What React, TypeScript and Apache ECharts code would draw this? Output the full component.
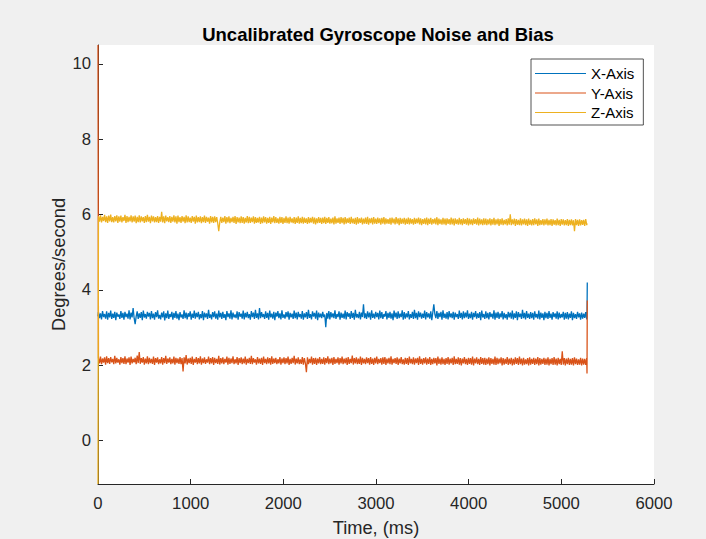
import React, { useEffect, useRef } from "react";
import * as echarts from "echarts";

// Sampling clock of the gyroscope log (ms)
const SAMPLE_START_MS = 5;
const SAMPLE_PERIOD_MS = 11;
const START_MS = 0;
const END_MS = [5277, 5280];

const seriesNames = ["X-Axis", "Y-Axis", "Z-Axis"];
const seriesColors = ["#0072BD", "#D95319", "#EDB120"];

const yTicks = [0, 2, 4, 6, 8, 10];
const xTicks = [0, 1000, 2000, 3000, 4000, 5000, 6000];

// X-Axis (deg/s): first sample, steady samples, last two samples
const xAxisValues = [
  3.3,
  3.41,3.25,3.38,3.22,3.44,3.28,3.36,3.24,3.43,3.21,3.39,3.27,3.45,3.23,3.37,3.26,3.42,3.20,3.40,3.29,
  3.35,3.23,3.44,3.26,3.39,3.21,3.42,3.28,3.37,3.24,3.46,3.22,3.40,3.27,3.52,3.25,3.09,3.30,3.43,3.23,
  3.38,3.26,3.41,3.20,3.45,3.27,3.36,3.24,3.42,3.29,3.39,3.22,3.44,3.25,3.37,3.21,3.41,3.28,3.46,3.24,
  3.34,3.22,3.40,3.27,3.43,3.19,3.38,3.25,3.45,3.23,3.36,3.28,3.42,3.21,3.39,3.26,3.44,3.24,3.37,3.20,
  3.41,3.27,3.35,3.23,3.46,3.25,3.40,3.22,3.38,3.29,3.43,3.21,3.37,3.26,3.45,3.24,3.39,3.28,3.42,3.22,
  3.36,3.25,3.44,3.20,3.40,3.27,3.38,3.23,3.47,3.26,3.35,3.22,3.41,3.28,3.43,3.24,3.37,3.21,3.45,3.27,
  3.39,3.23,3.42,3.26,3.36,3.20,3.44,3.28,3.38,3.24,3.46,3.22,3.40,3.27,3.35,3.25,3.43,3.21,3.41,3.29,
  3.37,3.24,3.45,3.22,3.39,3.27,3.42,3.25,3.36,3.21,3.44,3.28,3.40,3.23,3.47,3.26,3.38,3.22,3.52,3.25,
  3.41,3.28,3.36,3.23,3.43,3.26,3.39,3.21,3.45,3.27,3.37,3.24,3.42,3.20,3.40,3.29,3.44,3.25,3.38,3.22,
  3.46,3.26,3.35,3.24,3.41,3.28,3.43,3.21,3.39,3.27,3.37,3.23,3.45,3.25,3.40,3.22,3.42,3.28,3.36,3.24,
  3.44,3.21,3.38,3.27,3.41,3.23,3.47,3.26,3.36,3.22,3.43,3.29,3.39,3.24,3.45,3.20,3.40,3.27,3.37,3.25,
  3.42,3.28,3.35,3.01,3.39,3.24,3.44,3.22,3.41,3.27,3.38,3.25,3.46,3.23,3.36,3.28,3.43,3.21,3.40,3.26,
  3.37,3.24,3.45,3.22,3.41,3.29,3.38,3.23,3.44,3.26,3.39,3.21,3.47,3.27,3.36,3.25,3.42,3.22,3.40,3.28,
  3.62,3.25,3.38,3.23,3.43,3.27,3.40,3.21,3.46,3.26,3.37,3.24,3.42,3.28,3.39,3.22,3.45,3.25,3.41,3.23,
  3.36,3.29,3.44,3.22,3.39,3.26,3.42,3.24,3.38,3.20,3.45,3.27,3.40,3.23,3.43,3.25,3.37,3.28,3.46,3.21,
  3.41,3.24,3.38,3.27,3.44,3.22,3.36,3.26,3.42,3.23,3.47,3.25,3.39,3.21,3.43,3.28,3.40,3.24,3.37,3.26,
  3.45,3.22,3.41,3.27,3.38,3.24,3.43,3.20,3.40,3.62,3.36,3.25,3.44,3.23,3.39,3.28,3.42,3.21,3.46,3.26,
  3.37,3.24,3.41,3.22,3.44,3.27,3.38,3.25,3.42,3.21,3.40,3.28,3.36,3.23,3.45,3.26,3.39,3.22,3.43,3.25,
  3.40,3.27,3.46,3.23,3.37,3.25,3.42,3.21,3.39,3.28,3.44,3.24,3.38,3.26,3.41,3.20,3.45,3.27,3.36,3.23,
  3.43,3.25,3.39,3.22,3.41,3.28,3.37,3.24,3.46,3.21,3.40,3.26,3.42,3.23,3.38,3.27,3.44,3.22,3.39,3.25,
  3.36,3.21,3.42,3.27,3.40,3.24,3.45,3.22,3.38,3.26,3.43,3.20,3.41,3.28,3.37,3.23,3.47,3.25,3.39,3.22,
  3.44,3.26,3.37,3.23,3.41,3.25,3.39,3.21,3.43,3.27,3.36,3.24,3.45,3.22,3.40,3.26,3.38,3.20,3.42,3.25,
  3.39,3.23,3.44,3.26,3.37,3.21,3.41,3.28,3.38,3.24,3.43,3.22,3.40,3.25,3.36,3.27,3.42,3.21,3.39,3.24,
  3.41,3.22,3.37,3.26,3.43,3.20,3.39,3.25,3.36,3.23,3.42,3.27,3.38,3.21,3.40,3.24,3.37,3.26,3.41,3.22,
  3.30, 4.20,
];

// Y-Axis (deg/s)
const yAxisValues = [
  10.5,
  2.20,2.05,2.23,2.03,2.18,2.07,2.21,2.02,2.24,2.06,2.19,2.04,2.22,2.08,2.17,2.03,2.25,2.05,2.20,2.07,
  2.16,2.02,2.22,2.06,2.19,2.04,2.24,2.03,2.18,2.07,2.21,2.01,2.23,2.05,2.17,2.08,2.20,2.03,2.26,2.06,
  2.35,2.04,2.19,2.07,2.22,2.02,2.18,2.05,2.24,2.03,2.20,2.06,2.17,2.04,2.23,2.01,2.19,2.07,2.21,2.03,
  2.16,2.05,2.22,2.02,2.19,2.06,2.25,2.04,2.18,2.07,2.21,2.03,2.17,2.05,2.23,2.02,2.20,2.06,2.18,2.04,
  2.22,2.03,2.19,1.84,2.21,2.05,2.27,2.02,2.18,2.06,2.20,2.04,2.23,2.01,2.17,2.07,2.22,2.03,2.19,2.05,
  2.24,2.02,2.18,2.06,2.21,2.04,2.16,2.07,2.23,2.03,2.19,2.05,2.22,2.01,2.20,2.06,2.17,2.04,2.25,2.02,
  2.19,2.05,2.21,2.03,2.17,2.07,2.23,2.02,2.20,2.04,2.18,2.06,2.24,2.03,2.16,2.05,2.22,2.01,2.19,2.06,
  2.21,2.03,2.18,2.05,2.23,2.02,2.17,2.06,2.20,2.04,2.25,2.03,2.19,2.07,2.16,2.02,2.22,2.05,2.18,2.04,
  2.20,2.01,2.23,2.06,2.17,2.03,2.21,2.05,2.19,2.02,2.24,2.04,2.18,2.06,2.20,2.03,2.16,2.05,2.22,2.02,
  2.18,2.06,2.21,2.03,2.19,2.05,2.23,2.01,2.17,2.04,2.20,2.06,2.25,2.02,2.18,2.05,2.21,2.03,2.16,2.04,
  2.22,2.02,2.19,2.05,1.82,2.21,2.03,2.17,2.06,2.23,2.02,2.19,2.04,2.20,2.01,2.18,2.05,2.22,2.03,2.17,
  2.04,2.21,2.02,2.19,2.06,2.24,2.03,2.18,2.05,2.20,2.01,2.22,2.04,2.17,2.06,2.21,2.02,2.19,2.05,2.23,
  2.03,2.18,2.05,2.20,2.01,2.22,2.04,2.17,2.06,2.26,2.02,2.19,2.05,2.21,2.03,2.18,2.04,2.23,2.01,2.20,
  2.05,2.17,2.03,2.21,2.06,2.19,2.02,2.22,2.04,2.18,2.01,2.20,2.05,2.23,2.03,2.17,2.06,2.19,2.02,2.21,
  2.04,2.22,2.01,2.18,2.05,2.20,2.03,2.24,2.02,2.17,2.06,2.19,2.04,2.21,2.01,2.18,2.05,2.22,2.03,2.16,
  2.02,2.20,2.04,2.19,2.01,2.23,2.05,2.17,2.03,2.21,2.02,2.18,2.06,2.20,2.01,2.24,2.04,2.17,2.02,2.19,
  2.05,2.21,2.02,2.18,2.04,2.22,2.01,2.17,2.03,2.20,2.05,2.19,2.00,2.23,2.04,2.18,2.02,2.21,2.03,2.17,
  2.01,2.19,2.04,2.22,2.02,2.18,2.05,2.20,2.01,2.24,2.03,2.17,2.04,2.21,2.02,2.19,2.00,2.18,2.05,2.22,
  2.03,2.17,2.01,2.20,2.04,2.19,2.02,2.23,2.00,2.18,2.05,2.21,2.03,2.17,2.01,2.22,2.04,2.19,2.02,2.20,
  2.01,2.18,2.03,2.21,2.00,2.19,2.04,2.17,2.02,2.23,2.01,2.20,2.03,2.18,2.05,2.21,2.00,2.19,2.02,2.17,
  2.04,2.22,2.01,2.18,2.03,2.20,2.00,2.17,2.02,2.21,2.04,2.19,2.01,2.23,2.03,2.18,2.00,2.20,2.02,2.16,
  2.03,2.19,2.00,2.21,2.02,2.17,2.04,2.20,2.01,2.18,2.03,2.22,2.00,2.19,2.02,2.17,2.04,2.20,2.01,2.18,
  2.02,2.21,2.00,2.17,2.03,2.19,2.01,2.22,2.02,2.18,2.00,2.20,2.03,2.17,2.01,2.37,2.02,2.19,2.00,2.18,
  2.03,2.20,2.01,2.17,2.02,2.19,2.00,2.21,2.03,2.18,2.01,2.16,2.02,2.20,2.00,2.18,2.02,2.17,2.01,2.19,
  1.78, 3.72,
];

// Z-Axis (deg/s)
const zAxisValues = [
  -1.15,
  5.96,5.81,5.98,5.79,5.94,5.83,5.99,5.80,5.95,5.78,5.97,5.82,6.00,5.80,5.93,5.79,5.96,5.82,5.98,5.78,
  5.95,5.81,5.97,5.79,5.93,5.83,5.99,5.78,5.96,5.80,5.94,5.82,5.98,5.79,5.95,5.81,5.97,5.77,5.94,5.80,
  5.98,5.79,5.95,5.82,5.93,5.78,5.96,5.80,5.99,5.81,5.94,5.77,5.97,5.82,5.95,5.79,5.93,5.80,5.96,5.78,
  5.94,5.81,6.07,5.79,5.95,5.77,5.97,5.82,5.93,5.80,5.96,5.78,5.94,5.81,5.98,5.79,5.95,5.76,5.97,5.80,
  5.93,5.78,5.96,5.81,5.94,5.77,5.98,5.79,5.95,5.80,5.92,5.78,5.96,5.81,5.94,5.76,5.97,5.79,5.93,5.80,
  5.95,5.77,5.93,5.80,5.97,5.78,5.94,5.81,5.92,5.76,5.96,5.79,5.94,5.78,5.95,5.80,5.93,5.77,5.56,5.79,
  5.94,5.78,5.92,5.80,5.96,5.76,5.93,5.79,5.95,5.77,5.91,5.80,5.94,5.78,5.96,5.75,5.93,5.79,5.92,5.77,
  5.95,5.78,5.93,5.76,5.91,5.79,5.96,5.77,5.94,5.78,5.92,5.80,5.95,5.76,5.93,5.78,5.91,5.79,5.94,5.75,
  5.92,5.77,5.95,5.79,5.93,5.76,5.91,5.78,5.94,5.75,5.92,5.79,5.96,5.77,5.93,5.78,5.90,5.76,5.94,5.78,
  5.93,5.75,5.91,5.78,5.95,5.77,5.92,5.76,5.94,5.79,5.90,5.77,5.93,5.75,5.92,5.78,5.95,5.76,5.91,5.77,
  5.94,5.76,5.92,5.78,5.90,5.75,5.93,5.77,5.91,5.79,5.94,5.76,5.92,5.74,5.90,5.77,5.93,5.78,5.91,5.75,
  5.92,5.77,5.94,5.75,5.91,5.78,5.93,5.76,5.89,5.77,5.92,5.74,5.95,5.76,5.90,5.78,5.92,5.75,5.93,5.77,
  5.91,5.74,5.93,5.76,5.90,5.78,5.92,5.75,5.94,5.77,5.89,5.75,5.91,5.73,5.93,5.76,5.90,5.78,5.92,5.74,
  5.89,5.76,5.92,5.75,5.94,5.73,5.90,5.77,5.91,5.74,5.93,5.76,5.89,5.75,5.92,5.77,5.90,5.73,5.91,5.76,
  5.93,5.74,5.90,5.76,5.88,5.75,5.91,5.73,5.92,5.77,5.89,5.74,5.93,5.76,5.90,5.72,5.91,5.75,5.89,5.76,
  5.91,5.73,5.89,5.75,5.92,5.74,5.90,5.76,5.88,5.73,5.91,5.75,5.89,5.77,5.92,5.74,5.90,5.72,5.88,5.75,
  5.90,5.74,5.92,5.72,5.89,5.75,5.91,5.73,5.88,5.76,5.90,5.74,5.93,5.72,5.89,5.75,5.87,5.73,5.91,5.74,
  5.89,5.72,5.90,5.75,5.88,5.73,5.92,5.74,5.89,5.71,5.90,5.75,5.87,5.73,5.91,5.74,5.88,5.72,5.90,5.75,
  5.88,5.73,5.91,5.71,5.89,5.74,5.87,5.72,5.90,5.75,5.88,5.73,5.92,5.71,5.89,5.74,5.87,5.72,5.90,5.73,
  5.89,5.72,5.87,5.74,5.90,5.71,5.88,5.73,5.91,5.72,5.87,5.74,5.89,5.70,5.88,5.73,5.90,5.72,5.86,5.74,
  5.88,5.71,5.90,5.73,6.01,5.72,5.87,5.74,5.89,5.70,5.88,5.73,5.86,5.72,5.90,5.71,5.87,5.74,5.89,5.72,
  5.87,5.70,5.89,5.73,5.86,5.71,5.88,5.72,5.90,5.74,5.87,5.70,5.89,5.72,5.85,5.73,5.88,5.71,5.87,5.73,
  5.89,5.71,5.86,5.72,5.88,5.70,5.87,5.73,5.85,5.71,5.89,5.72,5.86,5.70,5.88,5.73,5.87,5.71,5.85,5.72,
  5.88,5.70,5.86,5.72,5.87,5.71,5.85,5.56,5.88,5.72,5.86,5.70,5.87,5.71,5.85,5.73,5.86,5.70,5.88,5.72,
  5.76, 5.74,
];

const FONT = "'Liberation Sans', Arial, Helvetica, sans-serif";
const INK = "#262626";

function sampleTime(index: number, count: number): number {
  if (index === 0) return START_MS;
  const steady = count - 1 - END_MS.length;
  if (index > steady) return END_MS[index - steady - 1];
  return SAMPLE_START_MS + (index - 1) * SAMPLE_PERIOD_MS;
}

function toPairs(values: number[]): [number, number][] {
  return values.map((v, i) => [sampleTime(i, values.length), v]);
}

export default function App() {
  const ref = useRef<HTMLDivElement>(null);

  useEffect(() => {
    document.body.style.margin = "0";
    document.body.style.background = "#f0f0f0";
    if (!ref.current) return;
    const chart = echarts.init(ref.current, undefined, { renderer: "svg" });
    const all = [xAxisValues, yAxisValues, zAxisValues];
    chart.setOption({
      animation: false,
      backgroundColor: "#f0f0f0",
      textStyle: { fontFamily: FONT },
      title: {
        text: "Uncalibrated Gyroscope Noise and Bias",
        left: 373,
        top: 20,
        textAlign: "center",
        textStyle: { fontFamily: FONT, fontSize: 18.5, fontWeight: "bold", color: "#000" },
      },
      legend: {
        orient: "vertical",
        left: 531,
        top: 59,
        padding: [7, 9, 5, 4],
        itemGap: 4.5,
        itemWidth: 51,
        itemHeight: 1,
        icon: "rect",
        backgroundColor: "#ffffff",
        borderColor: INK,
        borderWidth: 0.8,
        textStyle: { fontFamily: FONT, fontSize: 15, color: "#000", lineHeight: 14.5 },
        data: seriesNames.map((n, i) => ({ name: n, itemStyle: { color: seriesColors[i] } })),
      },
      grid: {
        left: 98,
        top: 45,
        right: 52,
        bottom: 55,
        show: true,
        backgroundColor: "#ffffff",
        borderWidth: 0,
        containLabel: false,
        outerBoundsMode: "none",
      },
      xAxis: {
        type: "value",
        min: xTicks[0],
        max: xTicks[xTicks.length - 1],
        interval: 1000,
        name: "Time, (ms)",
        nameLocation: "middle",
        nameGap: 34,
        nameMoveOverlap: false,
        nameTextStyle: { fontFamily: FONT, fontSize: 18.3, color: INK },
        axisLine: { show: true, onZero: false, lineStyle: { color: INK, width: 1 } },
        axisTick: { show: true, inside: true, length: 5, lineStyle: { color: INK } },
        axisLabel: {
          fontFamily: FONT,
          fontSize: 16.7,
          color: INK,
          margin: 11,
          formatter: (v: number) => String(v),
        },
        splitLine: { show: false },
      },
      yAxis: {
        type: "value",
        min: -1.15,
        max: 10.5,
        name: "Degrees/second",
        nameLocation: "middle",
        nameGap: 31,
        nameMoveOverlap: false,
        nameTextStyle: { fontFamily: FONT, fontSize: 18.3, color: INK },
        axisLine: { show: true, onZero: false, lineStyle: { color: INK, width: 1 } },
        axisTick: { show: true, inside: true, length: 5, lineStyle: { color: INK }, customValues: yTicks },
        axisLabel: {
          fontFamily: FONT,
          fontSize: 16.7,
          color: INK,
          margin: 7,
          customValues: yTicks,
          formatter: (v: number) => String(v),
        },
        splitLine: { show: false },
      },
      series: all.map((vals, i) => ({
        name: seriesNames[i],
        type: "line",
        data: toPairs(vals),
        showSymbol: false,
        symbol: "none",
        itemStyle: { color: seriesColors[i] },
        lineStyle: { color: seriesColors[i], width: 1.3 },
        clip: true,
      })),
    });
    return () => chart.dispose();
  }, []);

  return <div ref={ref} style={{ width: 706, height: 539 }} />;
}
